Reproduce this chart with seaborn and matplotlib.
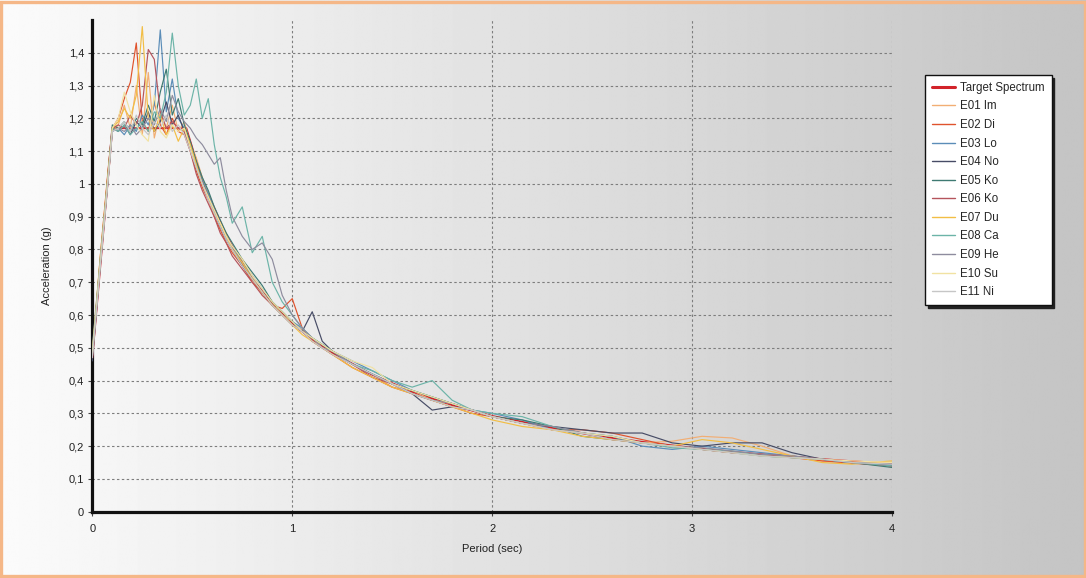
import numpy as np
import pandas as pd
import matplotlib
matplotlib.use("Agg")
import matplotlib.pyplot as plt
import seaborn as sns
from matplotlib.patches import Rectangle
from matplotlib.lines import Line2D

# ---------------------------------------------------------------- data
TARGET_PERIOD = [0.0, 0.1, 0.47, 0.52, 0.55, 0.6, 0.65, 0.7, 0.75, 0.8, 0.9,
                 1.0, 1.1, 1.2, 1.4, 1.6, 1.8, 2.0, 2.25, 2.5, 2.75, 3.0,
                 3.25, 3.5, 3.75, 4.0]
TARGET_ACC = [0.47, 1.17, 1.17, 1.07, 1.01, 0.94, 0.87, 0.81, 0.76, 0.71, 0.635,
              0.575, 0.525, 0.485, 0.418, 0.366, 0.325, 0.292, 0.262, 0.234, 0.213, 0.195,
              0.180, 0.167, 0.156, 0.146]

PERIOD = [0.0, 0.04, 0.08, 0.1,
          0.13, 0.16, 0.19, 0.22, 0.25, 0.28, 0.31, 0.34, 0.37, 0.40,
          0.43, 0.46, 0.49, 0.52, 0.55, 0.58, 0.61, 0.64, 0.67, 0.70,
          0.75, 0.80, 0.85, 0.90, 0.95, 1.00, 1.05, 1.10, 1.15, 1.20,
          1.3, 1.4, 1.5, 1.6, 1.7, 1.8, 1.9, 2.0,
          2.15, 2.3, 2.45, 2.6, 2.75, 2.9, 3.05, 3.2, 3.35, 3.5, 3.65, 3.8, 4.0]

E01_IM = [0.48, 0.76, 1.02, 1.16,
          1.18, 1.24, 1.17, 1.30, 1.15, 1.34, 1.14, 1.22, 1.17, 1.24,
          1.16, 1.19, 1.12, 1.08, 1.02, 0.97, 0.92, 0.88, 0.85, 0.80,
          0.77, 0.72, 0.66, 0.64, 0.60, 0.58, 0.55, 0.53, 0.50, 0.49,
          0.45, 0.42, 0.38, 0.37, 0.34, 0.33, 0.31, 0.29,
          0.27, 0.25, 0.24, 0.22, 0.21, 0.215, 0.23, 0.225, 0.20, 0.17, 0.155, 0.15, 0.15]
E02_DI = [0.47, 0.78, 1.05, 1.17,
          1.20, 1.26, 1.31, 1.43, 1.19, 1.16, 1.25, 1.18, 1.15, 1.20,
          1.16, 1.15, 1.10, 1.04, 0.99, 0.95, 0.90, 0.86, 0.82, 0.79,
          0.75, 0.70, 0.67, 0.63, 0.62, 0.65, 0.56, 0.52, 0.50, 0.48,
          0.44, 0.41, 0.38, 0.36, 0.34, 0.32, 0.30, 0.29,
          0.27, 0.25, 0.25, 0.24, 0.22, 0.20, 0.19, 0.18, 0.175, 0.165, 0.155, 0.148, 0.14]
E03_LO = [0.50, 0.77, 1.03, 1.16,
          1.17, 1.15, 1.18, 1.16, 1.21, 1.18, 1.24, 1.47, 1.22, 1.32,
          1.20, 1.17, 1.12, 1.06, 1.01, 0.97, 0.92, 0.87, 0.84, 0.81,
          0.76, 0.72, 0.68, 0.64, 0.61, 0.58, 0.56, 0.53, 0.51, 0.49,
          0.46, 0.43, 0.40, 0.37, 0.35, 0.33, 0.31, 0.30,
          0.28, 0.25, 0.24, 0.23, 0.20, 0.19, 0.20, 0.19, 0.18, 0.17, 0.16, 0.15, 0.145]
E04_NO = [0.46, 0.75, 1.02, 1.17,
          1.16, 1.18, 1.15, 1.19, 1.17, 1.22, 1.16, 1.19, 1.25, 1.18,
          1.21, 1.16, 1.11, 1.05, 1.00, 0.96, 0.91, 0.87, 0.83, 0.80,
          0.75, 0.71, 0.67, 0.63, 0.60, 0.57, 0.55, 0.61, 0.52, 0.49,
          0.45, 0.42, 0.39, 0.36, 0.31, 0.32, 0.31, 0.29,
          0.27, 0.26, 0.25, 0.24, 0.24, 0.21, 0.20, 0.21, 0.21, 0.18, 0.16, 0.15, 0.14]
E05_KO = [0.48, 0.76, 1.04, 1.18,
          1.17, 1.19, 1.16, 1.20, 1.18, 1.24, 1.19, 1.28, 1.35, 1.21,
          1.26, 1.18, 1.13, 1.07, 1.02, 0.98, 0.93, 0.89, 0.85, 0.82,
          0.77, 0.73, 0.69, 0.64, 0.61, 0.58, 0.55, 0.53, 0.51, 0.49,
          0.45, 0.42, 0.39, 0.37, 0.35, 0.33, 0.31, 0.29,
          0.28, 0.26, 0.23, 0.22, 0.21, 0.20, 0.19, 0.18, 0.17, 0.165, 0.16, 0.15, 0.135]
E06_KO = [0.47, 0.77, 1.03, 1.17,
          1.18, 1.17, 1.21, 1.18, 1.24, 1.41, 1.38, 1.22, 1.17, 1.19,
          1.17, 1.16, 1.10, 1.03, 0.98, 0.94, 0.90, 0.85, 0.82, 0.78,
          0.74, 0.70, 0.66, 0.63, 0.60, 0.57, 0.55, 0.52, 0.50, 0.48,
          0.45, 0.41, 0.39, 0.36, 0.34, 0.32, 0.31, 0.29,
          0.27, 0.25, 0.24, 0.22, 0.21, 0.20, 0.19, 0.18, 0.175, 0.17, 0.16, 0.15, 0.14]
E07_DU = [0.49, 0.78, 1.04, 1.17,
          1.19, 1.23, 1.20, 1.27, 1.48, 1.20, 1.16, 1.21, 1.15, 1.18,
          1.13, 1.17, 1.12, 1.06, 1.00, 0.96, 0.91, 0.88, 0.84, 0.80,
          0.76, 0.71, 0.67, 0.63, 0.60, 0.57, 0.54, 0.52, 0.50, 0.48,
          0.44, 0.41, 0.38, 0.36, 0.34, 0.32, 0.30, 0.28,
          0.26, 0.25, 0.23, 0.22, 0.21, 0.20, 0.22, 0.21, 0.19, 0.17, 0.15, 0.145, 0.155]
E08_CA = [0.48, 0.77, 1.03, 1.17,
          1.16, 1.18, 1.15, 1.17, 1.19, 1.16, 1.22, 1.20, 1.28, 1.46,
          1.30, 1.21, 1.24, 1.32, 1.20, 1.26, 1.12, 1.02, 0.96, 0.88,
          0.93, 0.79, 0.84, 0.70, 0.64, 0.60, 0.56, 0.53, 0.51, 0.49,
          0.45, 0.43, 0.40, 0.38, 0.40, 0.34, 0.31, 0.30,
          0.29, 0.26, 0.24, 0.23, 0.21, 0.195, 0.19, 0.185, 0.17, 0.165, 0.16, 0.15, 0.14]
E09_HE = [0.47, 0.76, 1.02, 1.16,
          1.17, 1.16, 1.18, 1.15, 1.17, 1.20, 1.18, 1.23, 1.19, 1.27,
          1.22, 1.19, 1.17, 1.14, 1.12, 1.09, 1.06, 1.08, 0.98, 0.90,
          0.84, 0.80, 0.82, 0.77, 0.66, 0.60, 0.56, 0.53, 0.50, 0.49,
          0.45, 0.42, 0.39, 0.36, 0.34, 0.33, 0.31, 0.29,
          0.27, 0.26, 0.24, 0.23, 0.21, 0.20, 0.195, 0.185, 0.175, 0.17, 0.16, 0.15, 0.145]
E10_SU = [0.48, 0.76, 1.03, 1.17,
          1.20, 1.28, 1.22, 1.18, 1.15, 1.13, 1.27, 1.16, 1.14, 1.18,
          1.16, 1.17, 1.11, 1.05, 1.00, 0.96, 0.92, 0.88, 0.84, 0.81,
          0.77, 0.72, 0.68, 0.64, 0.61, 0.58, 0.55, 0.53, 0.51, 0.49,
          0.46, 0.44, 0.39, 0.37, 0.35, 0.33, 0.31, 0.29,
          0.27, 0.25, 0.24, 0.23, 0.21, 0.20, 0.19, 0.18, 0.17, 0.165, 0.16, 0.155, 0.15]
E11_NI = [0.47, 0.75, 1.02, 1.16,
          1.17, 1.19, 1.16, 1.21, 1.17, 1.15, 1.19, 1.17, 1.21, 1.16,
          1.18, 1.15, 1.10, 1.05, 1.00, 0.95, 0.91, 0.87, 0.83, 0.80,
          0.75, 0.71, 0.67, 0.63, 0.60, 0.57, 0.55, 0.52, 0.50, 0.48,
          0.45, 0.42, 0.39, 0.36, 0.34, 0.32, 0.31, 0.29,
          0.27, 0.25, 0.24, 0.22, 0.21, 0.20, 0.19, 0.18, 0.17, 0.165, 0.16, 0.15, 0.145]

RECORD_NAMES = ["E01 Im", "E02 Di", "E03 Lo", "E04 No", "E05 Ko", "E06 Ko",
                "E07 Du", "E08 Ca", "E09 He", "E10 Su", "E11 Ni"]
RECORD_VALUES = [E01_IM, E02_DI, E03_LO, E04_NO, E05_KO, E06_KO,
                 E07_DU, E08_CA, E09_HE, E10_SU, E11_NI]
RECORD_COLORS = ["#F2AE74", "#E0532D", "#5B8DB8", "#474C66", "#3E7A72", "#B5545C",
                 "#F2BE45", "#6CB4A8", "#8E8C9E", "#F1E2A2", "#C6C6C6"]
TARGET_NAME = "Target Spectrum"
TARGET_COLOR = "#D2232A"

X_TICKS = [0, 1, 2, 3, 4]
X_TICK_LABELS = ["0", "1", "2", "3", "4"]
Y_TICKS = [0.0, 0.1, 0.2, 0.3, 0.4, 0.5, 0.6, 0.7, 0.8, 0.9, 1.0, 1.1, 1.2, 1.3, 1.4]
Y_TICK_LABELS = ["0", "0,1", "0,2", "0,3", "0,4", "0,5", "0,6", "0,7", "0,8", "0,9",
                 "1", "1,1", "1,2", "1,3", "1,4"]

# ---------------------------------------------------------------- frame
records = pd.concat(
    [pd.DataFrame({"Period": PERIOD, "Acceleration": vals, "Record": name})
     for name, vals in zip(RECORD_NAMES, RECORD_VALUES)],
    ignore_index=True,
)
target = pd.DataFrame({"Period": TARGET_PERIOD, "Acceleration": TARGET_ACC})

# ---------------------------------------------------------------- style
sns.set_theme(style="white")
plt.rcParams["font.family"] = ["Liberation Sans", "DejaVu Sans"]
plt.rcParams["axes.unicode_minus"] = False

fig = plt.figure(figsize=(10.86, 5.78), dpi=100)

# light-to-grey horizontal gradient behind everything, with a thin orange frame
bg = fig.add_axes([0, 0, 1, 1], zorder=-10)
bg.axis("off")
grad = np.linspace(251, 196, 600) / 255.0
bg.imshow(np.tile(grad, (2, 1)), cmap="gray", vmin=0, vmax=1,
          aspect="auto", extent=[0, 1, 0, 1], interpolation="bilinear")
bg.set_xlim(0, 1)
bg.set_ylim(0, 1)
bg.add_patch(Rectangle((0.0012, 0.003), 0.9976, 0.994, fill=False,
                       edgecolor="#F5B787", lw=2.4, transform=bg.transAxes))

ax = fig.add_axes([0.085, 0.1147, 0.7364, 0.8507])
ax.patch.set_alpha(0)

palette = dict(zip(RECORD_NAMES, RECORD_COLORS))
sns.lineplot(data=target, x="Period", y="Acceleration", color=TARGET_COLOR,
             lw=1.4, estimator=None, sort=False, ax=ax, legend=False, zorder=3)
sns.lineplot(data=records, x="Period", y="Acceleration", hue="Record",
             hue_order=RECORD_NAMES, palette=palette, estimator=None,
             sort=False, lw=0.85, ax=ax, legend=False, zorder=3.5)

ax.set_xlim(0, 4)
ax.set_ylim(0, 1.5)
ax.set_xticks(X_TICKS)
ax.set_xticklabels(X_TICK_LABELS)
ax.set_xticks(np.arange(0, 4.01, 0.2), minor=True)
ax.set_yticks(Y_TICKS)
ax.set_yticklabels(Y_TICK_LABELS)

ax.grid(True, which="major", linestyle=(0, (2.2, 2.2)), color="#7d7d7d", lw=0.8)
ax.set_axisbelow(True)
for side in ("top", "right"):
    ax.spines[side].set_visible(False)
for side in ("left", "bottom"):
    ax.spines[side].set_color("#111111")
    ax.spines[side].set_linewidth(2.3)

ax.tick_params(axis="both", which="major", length=3, width=0.8, color="#444444",
               labelsize=8, labelcolor="#222222")
ax.tick_params(axis="x", which="major", pad=6)
ax.tick_params(axis="y", which="major", pad=3)
ax.tick_params(axis="x", which="minor", length=2, width=0.8, color="#9a9a9a")
ax.tick_params(left=True, bottom=True)

ax.set_xlabel("Period (sec)", fontsize=8, color="#222222")
ax.set_ylabel("Acceleration (g)", fontsize=8, color="#222222")
ax.xaxis.set_label_coords(0.5, -0.066)
ax.yaxis.set_label_coords(-0.051, 0.5)

# legend panel on the right
handles = [Line2D([], [], color=TARGET_COLOR, lw=2.2)] + \
          [Line2D([], [], color=c, lw=1.0) for c in RECORD_COLORS]
labels = [TARGET_NAME] + RECORD_NAMES
leg = fig.legend(handles, labels, loc="upper left",
                 bbox_to_anchor=(0.8517, 0.8703), bbox_transform=fig.transFigure,
                 fontsize=8.3, frameon=True, fancybox=False, framealpha=1,
                 edgecolor="#111111", facecolor="white",
                 shadow={"color": "#222222", "alpha": 1.0},
                 borderaxespad=0, borderpad=0.6, labelspacing=0.57,
                 handlelength=2.0, handletextpad=0.45)
leg.get_frame().set_linewidth(1.0)

fig.savefig("out.png", dpi=100)
